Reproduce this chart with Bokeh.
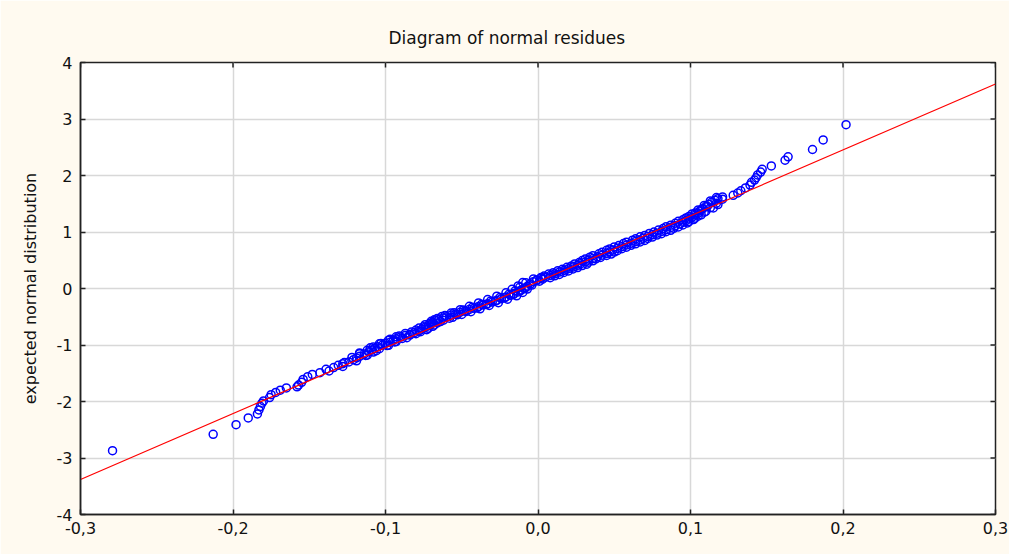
import math
from bokeh.plotting import figure
from bokeh.models import FixedTicker, CustomJSTickFormatter, Range1d
from bokeh.embed import file_html
from bokeh.resources import INLINE

# residuals (x) and expected normal values (y)
residuals = [
    -0.279, -0.213, -0.198, -0.190, -0.184, -0.183, -0.182, -0.181, -0.180, -0.176,
    -0.175, -0.172, -0.169, -0.165, -0.158, -0.157, -0.155, -0.154, -0.151, -0.148,
    -0.143, -0.137, -0.134, -0.131, -0.128, -0.124, -0.121, -0.119, -0.117, -0.114,
    -0.111, -0.109, -0.107, -0.105, -0.102, -0.100, -0.097, -0.095, -0.093, -0.090,
    -0.087, -0.084, -0.081, -0.078, -0.076, -0.074, -0.072, -0.070, -0.069, -0.067,
    -0.065, -0.062, -0.060, -0.057, -0.054, -0.051, -0.048, -0.045, -0.042, -0.039,
    -0.036, -0.033, -0.030, -0.027, -0.024, -0.021, -0.018, -0.016, -0.013, -0.011,
    -0.009, -0.007, -0.005, -0.003, -0.001, 0.002, 0.005, 0.008, 0.011, 0.014,
    0.017, 0.020, 0.023, 0.026, 0.028, 0.031, 0.033, 0.036, 0.039, 0.042,
    0.045, 0.047, 0.049, 0.052, 0.055, 0.058, 0.061, 0.064, 0.067, 0.069,
    0.072, 0.075, 0.078, 0.081, 0.084, 0.087, 0.090, 0.093, 0.095, 0.097,
    0.099, 0.101, 0.103, 0.105, 0.106, 0.108, 0.110, 0.112, 0.114, 0.116,
    0.118, 0.121, 0.128, 0.131, 0.133, 0.136, 0.139, 0.140, 0.142, 0.143,
    0.144, 0.146, 0.147, 0.153, 0.162, 0.164, 0.180, 0.187, 0.202,
    -0.139, -0.128, -0.127, -0.119, -0.122, -0.112, -0.117, -0.106, -0.110, -0.099,
    -0.104, -0.093, -0.097, -0.086, -0.091, -0.080, -0.083, -0.073, -0.078, -0.069,
    -0.074, -0.066, -0.070, -0.062, -0.066, -0.056, -0.061, -0.050, -0.055, -0.044,
    -0.049, -0.038, -0.043, -0.032, -0.037, -0.026, -0.031, -0.020, -0.025, -0.014,
    -0.019, -0.010, -0.015, -0.007, -0.012, -0.004, -0.008, 0.001, -0.003, 0.008,
    0.004, 0.014, 0.010, 0.020, 0.016, 0.026, 0.022, 0.032, 0.027, 0.036,
    0.031, 0.041, 0.036, 0.048, 0.042, 0.052, 0.047, 0.058, 0.053, 0.064,
    0.058, 0.070, 0.064, 0.075, 0.070, 0.081, 0.076, 0.087, 0.082, 0.092,
    0.087, 0.098, 0.092, 0.102, 0.097, 0.105, 0.101, 0.109, 0.105, 0.113,
    0.109, 0.117, 0.113, 0.121, 0.117,
    -0.113, -0.117, -0.108, -0.112, -0.104, -0.108, -0.098, -0.103, -0.094, -0.098,
    -0.089, -0.093, -0.084, -0.087, -0.077, -0.080, -0.072, -0.075, -0.068, -0.071,
    -0.064, -0.068, -0.058, -0.063, -0.053, -0.057, -0.047, -0.051, -0.040, -0.045,
    -0.034, -0.039, -0.028, -0.033, -0.022, -0.027, -0.016, -0.021, -0.012, -0.017,
    -0.008, -0.013, -0.005, -0.010, -0.001, 0.003, 0.002, 0.011, 0.007, 0.017,
    0.013, 0.023, 0.019, 0.029, 0.024, 0.033, 0.029, 0.038, 0.034, 0.045,
    0.040, 0.050, 0.045, 0.055, 0.050, 0.061, 0.056, 0.067, 0.062, 0.072,
    0.067, 0.078, 0.073, 0.084, 0.079, 0.089, 0.084, 0.095, 0.090, 0.099,
    0.095, 0.103, 0.099, 0.107, 0.103, 0.110, 0.107, 0.115, 0.111, 0.118,
]
expected = [
    -2.87, -2.58, -2.41, -2.29, -2.22, -2.15, -2.09, -2.03, -1.99, -1.93,
    -1.88, -1.84, -1.80, -1.76, -1.74, -1.71, -1.66, -1.61, -1.56, -1.52,
    -1.49, -1.46, -1.40, -1.36, -1.33, -1.30, -1.26, -1.23, -1.20, -1.16,
    -1.12, -1.09, -1.06, -1.03, -1.00, -0.97, -0.95, -0.92, -0.89, -0.86,
    -0.83, -0.81, -0.78, -0.75, -0.72, -0.69, -0.66, -0.63, -0.60, -0.57,
    -0.55, -0.52, -0.50, -0.47, -0.45, -0.42, -0.40, -0.37, -0.35, -0.32,
    -0.29, -0.27, -0.24, -0.21, -0.18, -0.15, -0.12, -0.09, -0.06, -0.03,
    0.00, 0.04, 0.08, 0.12, 0.15, 0.18, 0.20, 0.23, 0.26, 0.29,
    0.32, 0.35, 0.38, 0.41, 0.44, 0.47, 0.50, 0.53, 0.56, 0.59,
    0.62, 0.65, 0.68, 0.71, 0.74, 0.77, 0.80, 0.83, 0.86, 0.89,
    0.92, 0.95, 0.98, 1.01, 1.04, 1.08, 1.11, 1.14, 1.17, 1.20,
    1.23, 1.26, 1.30, 1.33, 1.37, 1.41, 1.45, 1.49, 1.53, 1.56,
    1.59, 1.62, 1.65, 1.69, 1.73, 1.78, 1.83, 1.88, 1.92, 1.96,
    2.01, 2.06, 2.11, 2.17, 2.27, 2.33, 2.46, 2.63, 2.90,
    -1.43, -1.38, -1.31, -1.28, -1.22, -1.18, -1.14, -1.10, -1.05, -1.01,
    -0.98, -0.94, -0.90, -0.87, -0.84, -0.80, -0.77, -0.73, -0.70, -0.67,
    -0.64, -0.61, -0.58, -0.56, -0.53, -0.51, -0.48, -0.46, -0.43, -0.41,
    -0.38, -0.36, -0.33, -0.30, -0.28, -0.25, -0.22, -0.19, -0.16, -0.13,
    -0.10, -0.07, -0.04, -0.01, 0.02, 0.06, 0.10, 0.13, 0.17, 0.19,
    0.22, 0.25, 0.28, 0.31, 0.34, 0.37, 0.40, 0.43, 0.46, 0.49,
    0.52, 0.55, 0.58, 0.61, 0.64, 0.67, 0.70, 0.73, 0.76, 0.79,
    0.82, 0.85, 0.88, 0.91, 0.94, 0.97, 1.00, 1.03, 1.06, 1.09,
    1.12, 1.16, 1.19, 1.22, 1.25, 1.28, 1.32, 1.35, 1.39, 1.43,
    1.47, 1.51, 1.55, 1.58, 1.61,
    -1.185, -1.155, -1.125, -1.095, -1.065, -1.035, -1.005, -0.975, -0.945, -0.915,
    -0.885, -0.855, -0.825, -0.795, -0.765, -0.735, -0.705, -0.675, -0.645, -0.615,
    -0.585, -0.555, -0.525, -0.495, -0.465, -0.435, -0.405, -0.375, -0.345, -0.315,
    -0.285, -0.255, -0.225, -0.195, -0.165, -0.135, -0.105, -0.075, -0.045, -0.015,
    0.015, 0.045, 0.075, 0.105, 0.135, 0.165, 0.195, 0.225, 0.255, 0.285,
    0.315, 0.345, 0.375, 0.405, 0.435, 0.465, 0.495, 0.525, 0.555, 0.585,
    0.615, 0.645, 0.675, 0.705, 0.735, 0.765, 0.795, 0.825, 0.855, 0.885,
    0.915, 0.945, 0.975, 1.005, 1.035, 1.065, 1.095, 1.125, 1.155, 1.185,
    1.215, 1.245, 1.275, 1.305, 1.335, 1.365, 1.395, 1.425, 1.455, 1.485,
]

# fitted normal line end points
fit_x = [-0.3, 0.3]
fit_y = [-3.38, 3.62]

x_ticks = [-0.3, -0.2, -0.1, 0.0, 0.1, 0.2, 0.3]
y_ticks = [-4, -3, -2, -1, 0, 1, 2, 3, 4]

FONT = "DejaVu Sans"
FSIZE = "16px"
INK = "#222222"

p = figure(width=1009, height=554, output_backend="svg", toolbar_location=None,
           x_range=Range1d(-0.3, 0.3), y_range=Range1d(-4, 4),
           title="Diagram of normal residues",
           min_border_left=80, min_border_right=14, min_border_top=62, min_border_bottom=40)
p.background_fill_color = "white"
p.border_fill_color = "#FFFAF0"
p.outline_line_color = INK
p.outline_line_width = 1.5

p.title.align = "left"
p.title.offset = 308
p.title.text_font = FONT
p.title.text_font_size = "17px"
p.title.text_font_style = "normal"
p.title.text_color = "#111111"
p.title.standoff = 30

xfmt = CustomJSTickFormatter(code="return tick.toFixed(1).replace('.', ',');")
yfmt = CustomJSTickFormatter(code="return tick.toFixed(0);")

for ax in p.xaxis:
    ax.ticker = FixedTicker(ticks=x_ticks)
    ax.formatter = xfmt
    ax.major_label_standoff = 7
for ax in p.yaxis:
    ax.ticker = FixedTicker(ticks=y_ticks)
    ax.formatter = yfmt
    ax.axis_label = "expected normal distribution"
    ax.axis_label_text_font = FONT
    ax.axis_label_text_font_size = FSIZE
    ax.axis_label_text_font_style = "normal"
    ax.axis_label_text_color = "#111111"
    ax.axis_label_standoff = 14
    ax.major_label_standoff = 8

for ax in list(p.xaxis) + list(p.yaxis):
    ax.major_tick_in = 5
    ax.major_tick_out = 0
    ax.minor_tick_in = 0
    ax.minor_tick_out = 0
    ax.axis_line_color = INK
    ax.axis_line_width = 1.5
    ax.major_tick_line_color = INK
    ax.major_tick_line_width = 1.5
    ax.major_label_text_font = FONT
    ax.major_label_text_font_size = FSIZE
    ax.major_label_text_color = "#111111"

p.xgrid.ticker = FixedTicker(ticks=x_ticks)
p.ygrid.ticker = FixedTicker(ticks=y_ticks)
p.grid.grid_line_color = "#D8D8D8"
p.grid.grid_line_width = 1.5

# inward ticks on the top and right edges of the frame
p.ray(x=x_ticks, y=[y_ticks[-1]] * len(x_ticks), length=5, length_units="screen",
      angle=-math.pi / 2, line_color=INK, line_width=1.5)
p.ray(x=[x_ticks[-1]] * len(y_ticks), y=y_ticks, length=5, length_units="screen",
      angle=math.pi, line_color=INK, line_width=1.5)

p.scatter(residuals, expected, marker="circle", size=8, fill_color=None,
          line_color="#0000FF", line_width=1.5)
p.line(fit_x, fit_y, line_color="#FF0000", line_width=1.2)

open("out.html", "w").write(file_html(p, INLINE))
